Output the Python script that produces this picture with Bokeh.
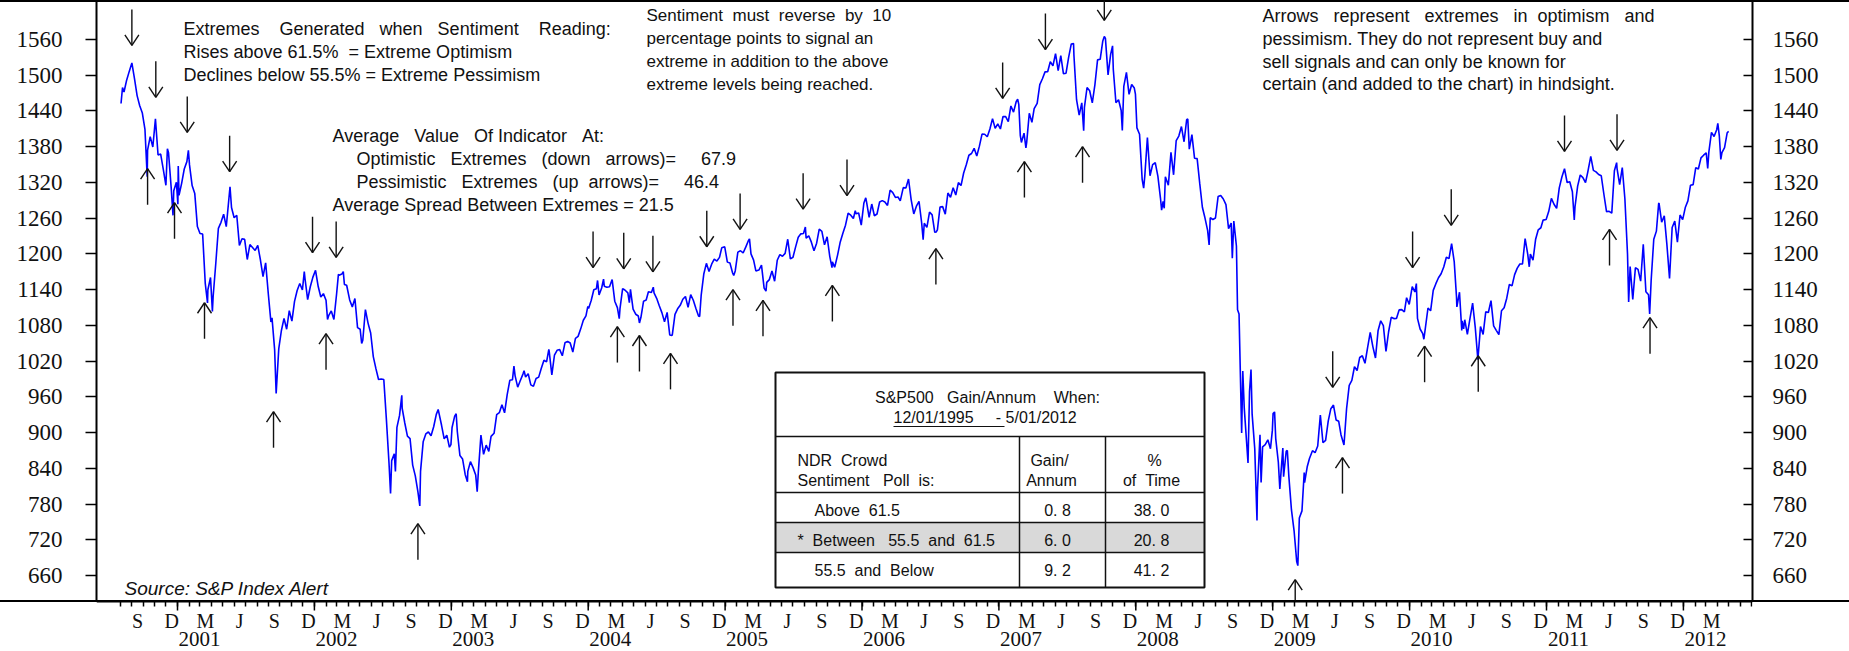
import re
from datetime import date
from bokeh.plotting import figure
from bokeh.models import Range1d, LinearAxis, FixedTicker, CustomJSTickFormatter
from bokeh.core.properties import value
from bokeh.embed import file_html
from bokeh.resources import INLINE

# ---------------- S&P 500 closes (weekly + turning points) ----------------
sp_2000 = [("08-03",1452.56),("08-07",1479.32),("08-11",1471.84),("08-18",1491.72),("08-25",1506.45),
           ("09-01",1520.77),("09-08",1494.50),("09-15",1465.81),("09-22",1448.72),("09-29",1436.51),
           ("10-06",1408.99),("10-12",1329.78),("10-13",1374.17),("10-20",1396.93),("10-27",1379.58),
           ("11-03",1426.69),("11-10",1365.98),("11-17",1367.72),("11-24",1341.77),("12-01",1315.23),
           ("12-05",1376.54),("12-08",1369.89),("12-15",1312.15),("12-20",1264.74),("12-22",1305.95),
           ("12-29",1320.28)]
sp_2001 = [("01-02",1283.27),("01-03",1347.56),("01-05",1298.35),("01-12",1318.55),("01-19",1342.54),
           ("01-26",1354.95),("01-30",1373.73),("02-02",1349.47),("02-09",1314.76),("02-16",1301.53),
           ("02-23",1245.86),("03-02",1234.18),("03-09",1233.42),("03-16",1150.53),("03-22",1117.58),
           ("03-23",1139.83),("03-30",1160.33),("04-04",1103.25),("04-06",1128.43),("04-13",1183.50),
           ("04-20",1242.98),("04-27",1253.05),("05-04",1266.61),("05-11",1245.67),("05-21",1312.83),
           ("05-25",1277.89),("06-01",1260.67),("06-08",1264.96),("06-15",1214.36),("06-22",1225.35),
           ("06-29",1224.42),("07-06",1190.59),("07-13",1215.68),("07-20",1210.85),("07-27",1205.82),
           ("08-03",1214.35),("08-10",1190.16),("08-17",1161.97),("08-24",1184.93),("08-31",1133.58),
           ("09-07",1085.78),("09-10",1092.54),("09-17",1038.77),("09-21",965.80),("09-28",1040.94),
           ("10-05",1071.38),("10-12",1091.65),("10-19",1073.48),("10-26",1104.61),("11-02",1087.20),
           ("11-09",1120.31),("11-16",1138.65),("11-23",1150.34),("11-30",1139.45),("12-05",1170.35),
           ("12-07",1158.31),("12-14",1123.09),("12-21",1144.89),("12-28",1161.02)]
sp_2002 = [("01-04",1172.51),("01-11",1145.60),("01-18",1127.58),("01-25",1133.28),("02-01",1122.20),
           ("02-05",1090.02),("02-08",1096.22),("02-15",1104.18),("02-22",1089.84),("03-01",1131.78),
           ("03-06",1165.55),("03-08",1164.31),("03-15",1166.16),("03-19",1170.29),("03-22",1148.70),
           ("03-28",1147.39),("04-05",1122.73),("04-12",1111.01),("04-19",1125.17),("04-26",1076.32),
           ("05-03",1073.43),("05-07",1049.49),("05-10",1054.99),("05-17",1106.59),("05-24",1083.82),
           ("05-31",1067.14),("06-07",1027.53),("06-14",1007.27),("06-21",989.14),("06-28",989.82),
           ("07-05",989.03),("07-12",921.39),("07-19",847.75),("07-23",797.70),("07-26",852.84),
           ("08-02",864.24),("08-05",834.60),("08-09",908.64),("08-16",928.77),("08-22",962.70),
           ("08-23",940.86),("08-30",916.07),("09-06",893.92),("09-13",889.81),("09-20",845.39),
           ("09-27",827.37),("10-04",800.58),("10-09",776.76),("10-11",835.32),("10-18",884.39),
           ("10-25",897.65),("11-01",900.96),("11-08",894.74),("11-15",909.83),("11-22",930.55),
           ("11-27",938.87),("12-06",912.23),("12-13",889.48),("12-20",895.76),("12-27",875.40),
           ("12-31",879.82)]
sp_2003 = [("01-03",908.59),("01-10",927.57),("01-14",931.66),("01-17",901.78),("01-24",861.40),
           ("01-31",855.70),("02-07",829.69),("02-13",817.37),("02-14",834.89),("02-21",851.17),
           ("02-28",841.15),("03-07",828.89),("03-11",800.73),("03-14",833.27),("03-21",895.79),
           ("03-28",863.50),("04-04",878.85),("04-11",868.30),("04-17",893.58),("04-25",898.81),
           ("05-02",930.08),("05-09",933.41),("05-16",946.67),("05-23",933.22),("05-30",963.59),
           ("06-06",987.76),("06-13",988.61),("06-17",1011.66),("06-20",995.69),("06-27",976.22),
           ("07-03",985.70),("07-11",998.14),("07-14",1003.86),("07-18",993.32),("07-25",998.68),
           ("08-01",980.15),("08-08",977.59),("08-15",990.67),("08-22",993.06),("08-29",1008.01),
           ("09-05",1021.39),("09-12",1018.63),("09-18",1039.58),("09-19",1036.30),("09-26",996.85),
           ("10-03",1029.85),("10-10",1038.06),("10-17",1039.32),("10-24",1028.91),("10-31",1050.71),
           ("11-07",1053.21),("11-14",1050.35),("11-21",1035.28),("11-28",1058.20),("12-05",1061.50),
           ("12-12",1074.14),("12-19",1088.66),("12-26",1095.89),("12-31",1111.92)]
sp_2004 = [("01-02",1108.48),("01-09",1121.86),("01-16",1139.83),("01-23",1141.55),("01-26",1155.37),
           ("01-30",1131.13),("02-06",1142.76),("02-11",1157.76),("02-13",1145.81),("02-20",1144.11),
           ("02-27",1144.94),("03-05",1156.86),("03-12",1120.57),("03-19",1109.78),("03-24",1091.33),
           ("03-26",1108.06),("04-02",1141.81),("04-08",1139.32),("04-16",1134.61),("04-20",1118.15),
           ("04-23",1140.60),("04-30",1107.30),("05-07",1098.70),("05-14",1095.70),("05-17",1084.10),
           ("05-21",1093.56),("05-28",1120.68),("06-04",1122.50),("06-10",1136.47),("06-18",1135.02),
           ("06-23",1144.06),("06-25",1134.43),("07-02",1125.38),("07-09",1112.81),("07-16",1101.39),
           ("07-23",1086.20),("07-30",1101.72),("08-06",1063.97),("08-12",1063.23),("08-13",1064.80),
           ("08-20",1098.35),("08-27",1107.77),("09-03",1113.63),("09-10",1123.92),("09-17",1128.55),
           ("09-24",1110.11),("10-01",1131.50),("10-08",1122.14),("10-15",1108.20),("10-22",1095.74),
           ("10-25",1094.81),("10-29",1130.20),("11-05",1166.17),("11-12",1184.17),("11-19",1170.34),
           ("11-26",1182.65),("12-03",1191.17),("12-10",1188.00),("12-17",1194.20),("12-23",1210.13),
           ("12-31",1211.92)]
sp_2005 = [("01-07",1186.19),("01-14",1184.52),("01-21",1167.87),("01-24",1163.75),("01-28",1171.36),
           ("02-04",1203.03),("02-11",1205.30),("02-18",1201.59),("02-25",1211.37),("03-04",1222.12),
           ("03-07",1225.31),("03-11",1200.08),("03-18",1189.65),("03-24",1171.42),("04-01",1172.92),
           ("04-08",1181.20),("04-15",1142.62),("04-20",1137.50),("04-22",1152.12),("04-29",1156.85),
           ("05-06",1171.35),("05-13",1154.05),("05-20",1189.28),("05-27",1198.78),("06-03",1196.02),
           ("06-10",1200.93),("06-17",1224.61),("06-24",1191.57),("07-01",1194.44),("07-08",1211.86),
           ("07-15",1227.92),("07-22",1233.68),("07-29",1234.18),("08-03",1245.04),("08-05",1226.42),
           ("08-12",1230.39),("08-19",1219.71),("08-26",1205.10),("09-02",1218.02),("09-09",1241.48),
           ("09-16",1237.91),("09-23",1215.29),("09-30",1228.81),("10-07",1195.90),("10-13",1176.84),
           ("10-14",1186.57),("10-20",1177.80),("10-21",1179.59),("10-28",1198.41),("11-04",1220.14),
           ("11-11",1234.72),("11-18",1248.27),("11-25",1268.25),("12-02",1265.08),("12-09",1259.37),
           ("12-14",1272.74),("12-16",1267.32),("12-23",1268.66),("12-30",1248.29)]
sp_2006 = [("01-06",1285.45),("01-11",1294.18),("01-13",1287.61),("01-20",1261.49),("01-27",1283.72),
           ("02-03",1264.03),("02-10",1266.99),("02-17",1287.24),("02-24",1289.43),("03-03",1287.23),
           ("03-10",1281.42),("03-17",1307.25),("03-24",1302.95),("03-31",1294.83),("04-07",1295.50),
           ("04-13",1289.12),("04-21",1311.28),("04-28",1310.61),("05-05",1325.76),("05-12",1291.24),
           ("05-19",1267.03),("05-26",1280.16),("06-02",1288.22),("06-09",1252.30),("06-13",1223.69),
           ("06-16",1251.54),("06-23",1244.50),("06-30",1270.20),("07-07",1265.48),("07-14",1236.20),
           ("07-18",1236.86),("07-21",1240.29),("07-28",1278.55),("08-04",1279.36),("08-11",1266.74),
           ("08-18",1302.30),("08-25",1295.09),("09-01",1311.01),("09-08",1298.92),("09-15",1319.66),
           ("09-22",1314.78),("09-29",1335.85),("10-06",1349.59),("10-13",1365.62),("10-20",1368.60),
           ("10-27",1377.34),("11-03",1364.30),("11-10",1380.90),("11-17",1401.20),("11-24",1400.95),
           ("12-01",1396.71),("12-08",1409.84),("12-15",1427.09),("12-22",1410.76),("12-29",1418.30)]
sp_2007 = [("01-05",1409.71),("01-12",1430.73),("01-19",1430.50),("01-26",1422.18),("02-02",1448.39),
           ("02-09",1438.06),("02-16",1455.54),("02-20",1459.68),("02-23",1451.19),("02-27",1399.04),
           ("03-02",1387.17),("03-09",1402.84),("03-14",1377.95),("03-16",1386.95),("03-23",1436.11),
           ("03-30",1420.86),("04-05",1443.76),("04-13",1452.85),("04-20",1484.35),("04-27",1494.07),
           ("05-04",1505.62),("05-11",1505.85),("05-18",1522.75),("05-25",1515.73),("06-01",1536.34),
           ("06-08",1507.67),("06-15",1532.91),("06-22",1502.56),("06-29",1503.35),("07-06",1530.44),
           ("07-13",1552.50),("07-19",1553.08),("07-20",1534.10),("07-27",1458.95),("08-03",1433.06),
           ("08-10",1453.64),("08-15",1406.70),("08-17",1445.94),("08-24",1479.37),("08-31",1473.99),
           ("09-07",1453.55),("09-14",1484.25),("09-21",1525.75),("09-28",1526.75),("10-05",1557.59),
           ("10-09",1565.15),("10-12",1561.80),("10-19",1500.63),("10-26",1535.28),("10-31",1549.38),
           ("11-02",1509.65),("11-09",1453.70),("11-16",1458.74),("11-23",1440.70),("11-26",1407.22),
           ("11-30",1481.14),("12-07",1504.66),("12-14",1467.95),("12-21",1484.46),("12-28",1478.49),
           ("12-31",1468.36)]
sp_2008 = [("01-04",1411.63),("01-11",1401.02),("01-18",1325.19),("01-22",1310.50),("01-25",1330.61),
           ("02-01",1395.42),("02-08",1331.29),("02-15",1349.99),("02-22",1353.11),("02-29",1330.63),
           ("03-07",1293.37),("03-10",1273.37),("03-14",1288.14),("03-17",1276.60),("03-20",1329.51),
           ("03-28",1315.22),("04-04",1370.40),("04-11",1332.83),("04-18",1390.33),("04-25",1397.84),
           ("05-02",1413.90),("05-09",1388.28),("05-16",1425.35),("05-19",1426.63),("05-23",1375.93),
           ("05-30",1400.38),("06-06",1360.68),("06-13",1360.03),("06-20",1317.93),("06-27",1278.38),
           ("07-03",1262.90),("07-11",1239.49),("07-15",1214.91),("07-18",1260.68),("07-25",1257.76),
           ("08-01",1260.31),("08-08",1296.32),("08-15",1298.20),("08-22",1292.20),("08-29",1282.83),
           ("09-05",1242.31),("09-12",1251.70),("09-15",1192.70),("09-19",1255.08),("09-26",1213.27),
           ("09-29",1106.39),("10-03",1099.23),("10-10",899.22),("10-13",1003.35),("10-17",940.55),
           ("10-24",876.77),("10-27",848.92),("10-31",968.75),("11-04",1005.75),("11-07",930.99),
           ("11-14",873.29),("11-20",752.44),("11-21",800.03),("11-28",896.24),("12-01",816.21),
           ("12-05",876.07),("12-12",879.73),("12-19",887.88),("12-26",872.80),("12-31",903.25)]
sp_2009 = [("01-02",931.80),("01-06",934.70),("01-09",890.35),("01-16",850.12),("01-20",805.22),
           ("01-23",831.95),("01-28",874.09),("01-30",825.88),("02-06",868.60),("02-09",869.89),
           ("02-13",826.84),("02-20",770.05),("02-27",735.09),("03-06",683.38),("03-09",676.53),
           ("03-13",756.55),("03-20",768.54),("03-26",832.86),("03-27",815.94),("04-03",842.50),
           ("04-09",856.56),("04-17",869.60),("04-24",866.23),("05-01",877.52),("05-08",929.23),
           ("05-15",882.88),("05-22",887.00),("05-29",919.14),("06-05",940.09),("06-12",946.21),
           ("06-19",921.23),("06-26",918.90),("07-02",896.42),("07-10",879.13),("07-17",940.38),
           ("07-24",979.26),("07-31",987.48),("08-07",1010.48),("08-14",1004.09),("08-21",1026.13),
           ("08-28",1028.93),("09-04",1016.40),("09-11",1042.73),("09-18",1068.30),("09-25",1044.38),
           ("10-02",1025.21),("10-09",1071.49),("10-16",1087.68),("10-23",1079.60),("10-30",1036.19),
           ("11-06",1069.30),("11-13",1093.48),("11-20",1091.38),("11-27",1091.49),("12-04",1105.98),
           ("12-11",1106.41),("12-18",1102.47),("12-24",1126.48),("12-31",1115.10)]
sp_2010 = [("01-08",1144.98),("01-15",1136.03),("01-19",1150.23),("01-22",1091.76),("01-29",1073.87),
           ("02-05",1066.19),("02-08",1056.74),("02-12",1075.51),("02-19",1109.17),("02-26",1104.49),
           ("03-05",1138.70),("03-12",1149.99),("03-19",1159.90),("03-26",1166.59),("04-02",1178.10),
           ("04-09",1194.37),("04-16",1192.13),("04-23",1217.28),("04-30",1186.69),("05-06",1128.15),
           ("05-07",1110.88),("05-14",1135.68),("05-20",1071.59),("05-21",1087.69),("05-25",1074.03),
           ("05-28",1089.41),("06-04",1064.88),("06-11",1091.60),("06-18",1117.51),("06-25",1076.76),
           ("07-02",1022.58),("07-09",1077.96),("07-16",1064.88),("07-23",1102.66),("07-30",1101.60),
           ("08-06",1121.64),("08-13",1079.25),("08-20",1071.69),("08-27",1064.59),("09-03",1104.51),
           ("09-10",1109.55),("09-17",1125.59),("09-24",1148.67),("10-01",1146.24),("10-08",1165.15),
           ("10-15",1176.19),("10-22",1183.08),("10-29",1183.26),("11-05",1225.85),("11-12",1199.21),
           ("11-16",1178.34),("11-19",1199.73),("11-26",1189.40),("12-03",1224.71),("12-10",1240.40),
           ("12-17",1243.91),("12-23",1256.77),("12-31",1257.64)]
sp_2011 = [("01-07",1271.50),("01-14",1293.24),("01-21",1283.35),("01-28",1276.34),("02-04",1310.87),
           ("02-11",1329.15),("02-18",1343.01),("02-25",1319.88),("03-04",1321.15),("03-11",1304.28),
           ("03-16",1256.88),("03-18",1279.21),("03-25",1313.80),("04-01",1332.41),("04-08",1328.17),
           ("04-15",1319.68),("04-21",1337.38),("04-29",1363.61),("05-06",1340.20),("05-13",1337.77),
           ("05-20",1333.27),("05-27",1331.10),("06-03",1300.16),("06-10",1270.98),("06-17",1271.50),
           ("06-24",1268.45),("07-01",1339.67),("07-07",1353.22),("07-08",1343.80),("07-15",1316.14),
           ("07-22",1345.02),("07-29",1292.28),("08-05",1199.38),("08-08",1119.46),("08-12",1178.81),
           ("08-19",1123.53),("08-26",1176.80),("09-02",1173.97),("09-09",1154.23),("09-16",1216.01),
           ("09-23",1136.43),("09-30",1131.42),("10-03",1099.23),("10-07",1155.46),("10-14",1224.58),
           ("10-21",1238.25),("10-27",1284.59),("10-28",1285.09),("11-04",1253.23),("11-11",1263.85),
           ("11-18",1215.65),("11-25",1158.67),("12-02",1244.28),("12-09",1255.19),("12-16",1219.66),
           ("12-23",1265.33),("12-30",1257.60)]
sp_2012 = [("01-06",1277.81),("01-13",1289.09),("01-20",1315.38),("01-27",1316.33),("02-03",1344.90),
           ("02-10",1342.64),("02-17",1361.23),("02-24",1365.74),("03-02",1369.63),("03-06",1343.36),
           ("03-09",1370.87),("03-16",1404.17),("03-23",1397.11),("03-30",1408.47),("04-02",1419.04),
           ("04-06",1398.08),("04-10",1358.59),("04-13",1370.26),("04-20",1378.53),("04-27",1403.36),
           ("05-01",1405.82)]

# Sentiment extremes (arrow dates and the level where each arrow tip sits)
down_dates = ["2000-09-01","2000-11-04","2001-01-27","2001-05-20","2001-12-27","2002-02-28",
              "2004-01-14","2004-04-05","2004-06-22","2004-11-13","2005-02-10","2005-07-28",
              "2005-11-22","2007-01-11","2007-05-05","2007-10-09","2009-06-10","2010-01-09",
              "2010-04-22","2011-02-18","2011-07-08"]
down_tips = [1550,1463,1404,1338,1202,1194,1177,1175,1170,1212,1241,1275,1298,1461,1543,1592,
             976,1177,1248,1372,1374]
up_dates = ["2000-10-13","2000-12-24","2001-03-14","2001-09-14","2002-02-01","2002-10-04",
            "2004-03-19","2004-05-17","2004-08-08","2005-01-22","2005-04-12","2005-10-14",
            "2006-07-17","2007-03-10","2007-08-12","2009-03-02","2009-07-06","2010-02-10",
            "2010-07-03","2011-06-18","2011-10-04"]
up_tips = [1343,1286,1118,935,1066,747,1078,1063,1033,1140,1122,1147,1209,1355,1380,653,858,
           1045,1029,1241,1093]

y_ticks = [660, 720, 780, 840, 900, 960, 1020, 1080, 1140, 1200, 1260, 1320, 1380, 1440, 1500, 1560]
years = list(range(2001, 2013))
month_letters = {3: "M", 6: "J", 9: "S", 12: "D"}

# table
table_title = "S&P500   Gain/Annum    When:"
table_period = ("12/01/1995", "5/01/2012")
table_head = [("NDR  Crowd", "Sentiment   Poll  is:"), ("Gain/", "Annum"), ("%", "of  Time")]
table_rows = ["Above  61.5", "*  Between   55.5  and  61.5", "55.5  and  Below"]
table_gain = [0.8, 6.0, 9.2]
table_pct = [38.0, 20.8, 41.2]

notes_rule = ["Extremes    Generated   when   Sentiment    Reading:",
              "Rises above 61.5%  = Extreme Optimism",
              "Declines below 55.5% = Extreme Pessimism"]
notes_avg = ["Average   Value   Of Indicator   At:",
             "Optimistic   Extremes   (down   arrows)=     67.9",
             "Pessimistic   Extremes   (up  arrows)=     46.4",
             "Average Spread Between Extremes = 21.5"]
notes_rev = ["Sentiment  must  reverse  by  10",
             "percentage points to signal an",
             "extreme in addition to the above",
             "extreme levels being reached."]
notes_arrows = ["Arrows   represent   extremes   in  optimism   and",
                "pessimism. They do not represent buy and",
                "sell signals and can only be known for",
                "certain (and added to the chart) in hindsight."]
source_note = "Source: S&P Index Alert"

# ---------------- helpers ----------------
def fy(y, m, d):
    start = date(y, 1, 1)
    n = (date(y + 1, 1, 1) - start).days
    return y + (date(y, m, d) - start).days / n

def fy_s(s):
    y, m, d = (int(v) for v in s.split("-"))
    return fy(y, m, d)

def nb(s):
    return re.sub(r" {2,}", lambda mt: " " + "\u00a0" * (len(mt.group()) - 1), s)

xs, ys = [], []
for yr, series in [(2000, sp_2000), (2001, sp_2001), (2002, sp_2002), (2003, sp_2003), (2004, sp_2004),
                   (2005, sp_2005), (2006, sp_2006), (2007, sp_2007), (2008, sp_2008), (2009, sp_2009),
                   (2010, sp_2010), (2011, sp_2011), (2012, sp_2012)]:
    for md, v in series:
        m, d = (int(t) for t in md.split("-"))
        xs.append(fy(yr, m, d))
        ys.append(v)

# ---------------- layout geometry ----------------
W, H = 1849, 651
FL, FR = 96, 97                   # frame borders (px); frame spans the full height
FW, FH = W - FL - FR, H
X0, X1 = 2000.4083, 2012.5047
KY = 0.59556                      # px per index point
Y1 = 1560 + 39 / KY
Y0 = Y1 - FH / KY
AXIS_Y = Y1 - 601 / KY            # level of the time axis line
kx = FW / (X1 - X0)
ky = KY

def X(px):
    return X0 + (px - FL) / kx

def Y(py):
    return Y1 - py / ky

p = figure(width=W, height=H, x_range=Range1d(X0, X1), y_range=Range1d(Y0, Y1),
           x_axis_type=None, y_axis_type=None, output_backend="svg", toolbar_location=None,
           min_border_left=FL, min_border_right=FR, min_border_top=0, min_border_bottom=0,
           title=None)
p.outline_line_color = None
p.border_fill_color = None
p.background_fill_color = None
p.styles = {
    "background-color": "white",
    "background-image": "linear-gradient(#000, #000), linear-gradient(#000, #000)",
    "background-size": "100% 2px, 100% 2px",
    "background-position": "0 0, 0 600px",
    "background-repeat": "no-repeat",
}

INK = "#111111"
SERIF = "Liberation Serif"
SANS = "Liberation Sans"

# y axes
for side in ("left", "right"):
    ax = LinearAxis(ticker=FixedTicker(ticks=y_ticks, minor_ticks=[]), bounds=(AXIS_Y, Y1))
    ax.axis_line_width = 2
    ax.axis_line_color = "black"
    ax.major_tick_line_width = 1.5
    ax.major_tick_line_color = "black"
    ax.minor_tick_line_color = None
    ax.major_label_text_font = SERIF
    ax.major_label_text_font_size = "23px"
    ax.major_label_text_color = INK
    if side == "left":
        ax.major_tick_out, ax.major_tick_in, ax.major_label_standoff = 11, 0, 23
    else:
        ax.major_tick_out, ax.major_tick_in, ax.major_label_standoff = 0, 9, 20
    p.add_layout(ax, side)

# time axis: month ticks, month letters at mid-month, years below
year_starts = [fy(y, 1, 1) for y in years]
month_starts = []
for y in range(2000, 2013):
    for m in range(1, 13):
        t = fy(y, m, 1)
        if fy(2000, 8, 1) - 1e-9 <= t <= fy(2012, 7, 1) + 1e-9:
            month_starts.append(t)

mid_ticks, mid_labels = [], []
for y in range(2000, 2013):
    for m in (3, 6, 9, 12):
        a = fy(y, m, 1)
        b = fy(y + (m == 12), (m % 12) + 1, 1)
        mid = (a + b) / 2
        if fy(2000, 9, 1) <= mid <= fy(2012, 4, 1):
            mid_ticks.append(mid)
            mid_labels.append(month_letters[m])

def label_axis(tick_vals, tick_text, standoff, size, minor=None):
    ax = LinearAxis(fixed_location=AXIS_Y,
                    ticker=FixedTicker(ticks=tick_vals, minor_ticks=minor or []),
                    formatter=CustomJSTickFormatter(args=dict(tv=tick_vals, tt=tick_text), code="""
                        for (let i = 0; i < tv.length; i++) {
                            if (Math.abs(tv[i] - tick) < 1e-6) return tt[i]
                        }
                        return ''
                    """))
    ax.major_tick_line_color = None
    ax.major_tick_out = 0
    ax.major_tick_in = 0
    ax.minor_tick_out = 0
    ax.minor_tick_in = 0
    ax.major_label_standoff = standoff
    ax.major_label_text_font = SERIF
    ax.major_label_text_font_size = size
    ax.major_label_text_color = INK
    return ax

m_ax = label_axis(mid_ticks, mid_labels, 3, "20px", minor=month_starts)
m_ax.axis_line_width = 2
m_ax.axis_line_color = "black"
m_ax.minor_tick_out = 5
m_ax.minor_tick_line_width = 1.5
m_ax.minor_tick_line_color = "black"
p.add_layout(m_ax, "below")

YEAR_SHIFT_PX = 22   # year labels start at the January tick
y_ax = label_axis([fy(y, 1, 1) + YEAR_SHIFT_PX / kx for y in years], [str(y) for y in years], 30, "21px")
y_ax.axis_line_color = None
y_ax.minor_tick_line_color = None
p.add_layout(y_ax, "below")

# longer ticks at each new year
p.segment(x0=year_starts, x1=year_starts, y0=[AXIS_Y] * len(years), y1=[AXIS_Y - 9 / ky] * len(years),
          line_color="black", line_width=1.5)

# price line
p.line(xs, ys, line_color="#0000ff", line_width=1.6)

# arrows
ARROW_PX, HEAD_W, HEAD_L = 36, 7, 10.5
L, hw, hl = ARROW_PX / ky, HEAD_W / kx, HEAD_L / ky
dx = [fy_s(s) for s in down_dates]
ux = [fy_s(s) for s in up_dates]
sx0, sy0, sx1, sy1 = [], [], [], []
for x, t in zip(dx, down_tips):
    sx0 += [x, x, x]; sy0 += [t + L, t, t]
    sx1 += [x, x - hw, x + hw]; sy1 += [t, t + hl, t + hl]
for x, t in zip(ux, up_tips):
    sx0 += [x, x, x]; sy0 += [max(t - L, AXIS_Y), t, t]
    sx1 += [x, x - hw, x + hw]; sy1 += [t, t - hl, t - hl]
p.segment(x0=sx0, y0=sy0, x1=sx1, y1=sy1, line_color=INK, line_width=1.4)

# text helper
def put(texts, px, py, size, align="left", style="normal"):
    p.text(x=[X(v) for v in px], y=[Y(v) for v in py], text=[nb(t) for t in texts],
           text_font=value(SANS), text_font_size=f"{size}px", text_align=align,
           text_baseline="middle", text_color=INK, text_font_style=style)

put(notes_rule, [183] * 3, [28, 51, 74], 18)
put(notes_avg, [332, 356, 356, 332], [135, 158, 181, 204], 18)
put(notes_rev, [646] * 4, [15, 38, 61, 84], 17)
put(notes_arrows, [1262] * 4, [15, 38, 61, 83], 18)
put([source_note], [124], [588], 19, style="italic")

# table
TL, TR, TT, TB = 775, 1204, 372, 587
rows_y = [436, 492, 522, 552]
cols_x = [1019, 1105]
p.quad(left=[X(TL)], right=[X(TR)], top=[Y(TT)], bottom=[Y(TB)], fill_color="white", line_color=None)
p.quad(left=[X(TL)], right=[X(TR)], top=[Y(rows_y[2])], bottom=[Y(rows_y[3])],
       fill_color="#d9d9d9", line_color=None)
p.segment(x0=[X(TL)] * 4, x1=[X(TR)] * 4, y0=[Y(v) for v in rows_y], y1=[Y(v) for v in rows_y],
          line_color=INK, line_width=1.5)
p.segment(x0=[X(v) for v in cols_x], x1=[X(v) for v in cols_x], y0=[Y(rows_y[0])] * 2, y1=[Y(TB)] * 2,
          line_color=INK, line_width=1.5)
p.quad(left=[X(TL)], right=[X(TR)], top=[Y(TT)], bottom=[Y(TB)], fill_color=None,
       line_color=INK, line_width=2)

put([table_title], [987], [397], 16, align="center")
put([f"{table_period[0]}     - {table_period[1]}"], [893], [417], 16)
p.segment(x0=[X(893)], x1=[X(1004)], y0=[Y(426)], y1=[Y(426)], line_color=INK, line_width=1.2)
put([table_head[0][0], table_head[0][1]], [797, 797], [460, 480], 16)
put([table_head[1][0], table_head[1][1]], [1049, 1051], [460, 480], 16, align="center")
put([table_head[2][0], table_head[2][1]], [1154, 1151], [460, 480], 16, align="center")
row_cy = [510, 540, 570]
put(table_rows, [814, 797, 814], row_cy, 16)
put([f"{v:.1f}".replace(".", ". ") for v in table_gain], [1057] * 3, row_cy, 16, align="center")
put([f"{v:.1f}".replace(".", ". ") for v in table_pct], [1151] * 3, row_cy, 16, align="center")

open("out.html", "w").write(file_html(p, INLINE))
